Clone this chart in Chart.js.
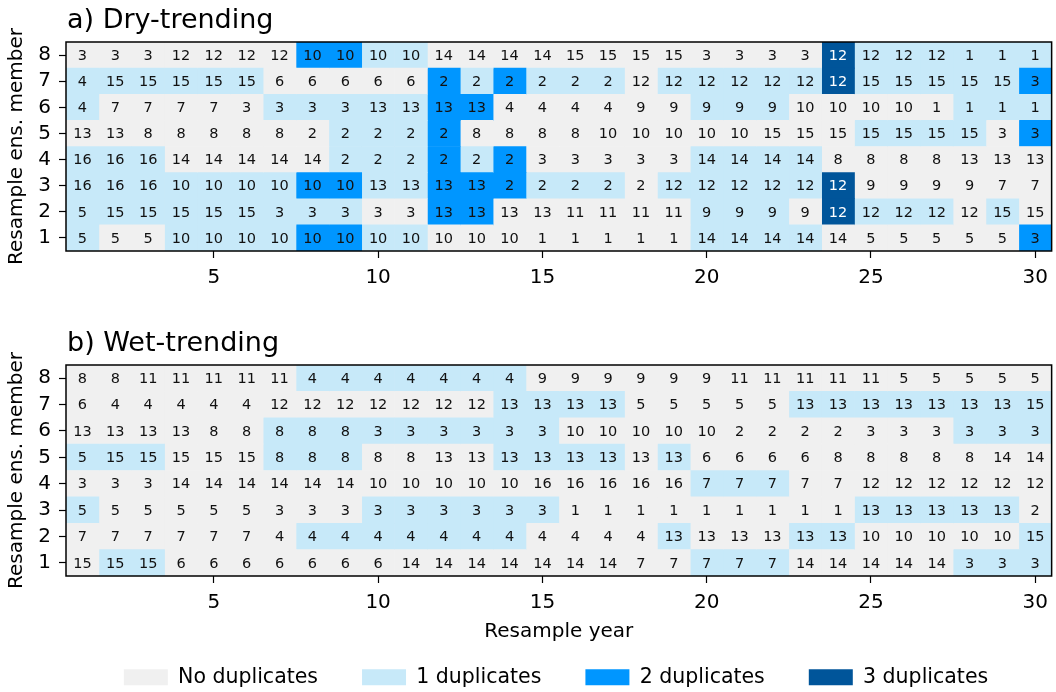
<!DOCTYPE html>
<html>
<head>
<meta charset="utf-8">
<script src="https://cdn.jsdelivr.net/npm/chart.js@4.4.0/dist/chart.umd.min.js"></script>
<style>
  body { margin: 0; background: #fff; overflow: hidden; }
  .box { position: absolute; }
</style>
</head>
<body>
<div class="box" style="left:0;top:0;width:1056px;height:300px"><canvas id="dry"></canvas></div>
<div class="box" style="left:0;top:300px;width:1056px;height:350px"><canvas id="wet"></canvas></div>
<div class="box" style="left:56px;top:623px;width:1000px;height:69px"><canvas id="key"></canvas></div>
<script>
// rows listed top to bottom (member 8 .. member 1), 30 resample years each
const rowLabels = ['8', '7', '6', '5', '4', '3', '2', '1'];
const years = [1,2,3,4,5,6,7,8,9,10,11,12,13,14,15,16,17,18,19,20,21,22,23,24,25,26,27,28,29,30];
const xTicks = [5, 10, 15, 20, 25, 30];
const levelNames = ['No duplicates', '1 duplicates', '2 duplicates', '3 duplicates'];
const levelColors = ['#f0f0f0', '#c7e9f9', '#0096ff', '#00559a'];

const dryValues = [
  [3,3,3,12,12,12,12,10,10,10, 10,14,14,14,14,15,15,15,15,3, 3,3,3,12,12,12,12,1,1,1],
  [4,15,15,15,15,15,6,6,6,6, 6,2,2,2,2,2,2,12,12,12, 12,12,12,12,15,15,15,15,15,3],
  [4,7,7,7,7,3,3,3,3,13, 13,13,13,4,4,4,4,9,9,9, 9,9,10,10,10,10,1,1,1,1],
  [13,13,8,8,8,8,8,2,2,2, 2,2,8,8,8,8,10,10,10,10, 10,15,15,15,15,15,15,15,3,3],
  [16,16,16,14,14,14,14,14,2,2, 2,2,2,2,3,3,3,3,3,14, 14,14,14,8,8,8,8,13,13,13],
  [16,16,16,10,10,10,10,10,10,13, 13,13,13,2,2,2,2,2,12,12, 12,12,12,12,9,9,9,9,7,7],
  [5,15,15,15,15,15,3,3,3,3, 3,13,13,13,13,11,11,11,11,9, 9,9,9,12,12,12,12,12,15,15],
  [5,5,5,10,10,10,10,10,10,10, 10,10,10,10,1,1,1,1,1,14, 14,14,14,14,5,5,5,5,5,3]
];
const dryLevels = [
  [0,0,0,0,0,0,0,2,2,1, 1,0,0,0,0,0,0,0,0,0, 0,0,0,3,1,1,1,1,1,1],
  [1,1,1,1,1,1,0,0,0,0, 0,2,1,2,1,1,1,0,1,1, 1,1,1,3,1,1,1,1,1,2],
  [1,0,0,0,0,0,1,1,1,1, 1,2,2,0,0,0,0,0,0,1, 1,1,0,0,0,0,0,1,1,1],
  [0,0,0,0,0,0,0,0,1,1, 1,2,0,0,0,0,0,0,0,0, 0,0,0,0,1,1,1,1,0,2],
  [1,1,1,0,0,0,0,0,1,1, 1,2,1,2,0,0,0,0,0,1, 1,1,1,0,0,0,0,0,0,0],
  [1,1,1,1,1,1,1,2,2,1, 1,2,2,2,1,1,1,0,1,1, 1,1,1,3,0,0,0,0,0,0],
  [1,1,1,1,1,1,1,1,1,0, 0,2,2,0,0,0,0,0,0,1, 1,1,0,3,1,1,1,0,1,0],
  [1,0,0,1,1,1,1,2,2,1, 1,0,0,0,0,0,0,0,0,1, 1,1,1,0,0,0,0,0,0,2]
];

const wetValues = [
  [8,8,11,11,11,11,11,4,4,4, 4,4,4,4,9,9,9,9,9,9, 11,11,11,11,11,5,5,5,5,5],
  [6,4,4,4,4,4,12,12,12,12, 12,12,12,13,13,13,13,5,5,5, 5,5,13,13,13,13,13,13,13,15],
  [13,13,13,13,8,8,8,8,8,3, 3,3,3,3,3,10,10,10,10,10, 2,2,2,2,3,3,3,3,3,3],
  [5,15,15,15,15,15,8,8,8,8, 8,13,13,13,13,13,13,13,13,6, 6,6,6,8,8,8,8,8,14,14],
  [3,3,3,14,14,14,14,14,14,10, 10,10,10,10,16,16,16,16,16,7, 7,7,7,7,12,12,12,12,12,12],
  [5,5,5,5,5,5,3,3,3,3, 3,3,3,3,3,1,1,1,1,1, 1,1,1,1,13,13,13,13,13,2],
  [7,7,7,7,7,7,4,4,4,4, 4,4,4,4,4,4,4,4,13,13, 13,13,13,13,10,10,10,10,10,15],
  [15,15,15,6,6,6,6,6,6,6, 14,14,14,14,14,14,14,7,7,7, 7,7,14,14,14,14,14,3,3,3]
];
const wetLevels = [
  [0,0,0,0,0,0,0,1,1,1, 1,1,1,1,0,0,0,0,0,0, 0,0,0,0,0,0,0,0,0,0],
  [0,0,0,0,0,0,0,0,0,0, 0,0,0,1,1,1,1,0,0,0, 0,0,1,1,1,1,1,1,1,1],
  [0,0,0,0,0,0,1,1,1,1, 1,1,1,1,1,0,0,0,0,0, 0,0,0,0,0,0,0,1,1,1],
  [1,1,1,0,0,0,1,1,1,0, 0,0,0,1,1,1,1,0,1,0, 0,0,0,0,0,0,0,0,0,0],
  [0,0,0,0,0,0,0,0,0,0, 0,0,0,0,0,0,0,0,0,1, 1,1,0,0,0,0,0,0,0,0],
  [1,0,0,0,0,0,0,0,0,1, 1,1,1,1,1,0,0,0,0,0, 0,0,0,0,1,1,1,1,1,0],
  [0,0,0,0,0,0,0,1,1,1, 1,1,1,1,0,0,0,0,1,0, 0,0,1,1,0,0,0,0,0,1],
  [0,1,1,0,0,0,0,0,0,0, 0,0,0,0,0,0,0,0,0,1, 1,1,0,0,0,0,0,1,1,1]
];

Chart.defaults.font.family = 'DejaVu Sans';
Chart.defaults.color = '#000';

// numbers in the cells, frame and panel title
const cellText = {
  id: 'cellText',
  afterDatasetsDraw(chart, args, opts) {
    const ctx = chart.ctx;
    ctx.save();
    ctx.font = '14.5px "DejaVu Sans"';
    ctx.textAlign = 'center';
    ctx.textBaseline = 'middle';
    chart.data.datasets.forEach((ds, i) => {
      chart.getDatasetMeta(i).data.forEach((bar, r) => {
        const p = bar.getCenterPoint();
        ctx.fillStyle = ds.levels[r] === 3 ? '#fff' : '#111';
        ctx.fillText(String(ds.values[r]), p.x, p.y + 1);
      });
    });
    const a = chart.chartArea;
    ctx.strokeStyle = '#000';
    ctx.lineWidth = 1.5;
    ctx.strokeRect(a.left, a.top, a.right - a.left, a.bottom - a.top);
    ctx.font = '27px "DejaVu Sans"';
    ctx.textAlign = 'left';
    ctx.textBaseline = 'alphabetic';
    ctx.fillStyle = '#000';
    ctx.fillText(opts.text, a.left + 1, a.top - 14);
    ctx.restore();
  }
};

function makePanel(id, title, values, levels, topPad, xHeight, showXTitle) {
  const datasets = years.map((yr, c) => ({
    data: rowLabels.map(() => [yr - 0.5, yr + 0.5]),
    values: values.map(row => row[c]),
    levels: levels.map(row => row[c]),
    backgroundColor: levels.map(row => levelColors[row[c]]),
    borderWidth: 0,
    grouped: false,
    barPercentage: 1,
    categoryPercentage: 1
  }));
  return new Chart(document.getElementById(id), {
    type: 'bar',
    data: { labels: rowLabels, datasets: datasets },
    plugins: [cellText],
    options: {
      indexAxis: 'y',
      responsive: true,
      maintainAspectRatio: false,
      animation: false,
      layout: { padding: { top: topPad, right: 4, left: 0, bottom: 0 } },
      plugins: {
        legend: { display: false },
        tooltip: { enabled: false },
        cellText: { text: title }
      },
      scales: {
        x: {
          type: 'linear',
          min: 0.5,
          max: 30.5,
          afterBuildTicks: s => { s.ticks = xTicks.map(v => ({ value: v })); },
          afterFit: s => { s.height = xHeight; },
          ticks: { font: { size: 20 }, padding: 8, maxRotation: 0 },
          grid: { drawOnChartArea: false, tickLength: 7, tickColor: '#000', tickWidth: 1.2 },
          border: { display: false },
          title: { display: showXTitle, text: 'Resample year', font: { size: 20 }, padding: { top: 0, bottom: 6 } }
        },
        y: {
          afterFit: s => { s.width = 66; },
          ticks: { font: { size: 20 }, padding: 8, autoSkip: false },
          grid: { offset: false, drawOnChartArea: false, tickLength: 7, tickColor: '#000', tickWidth: 1.2 },
          border: { display: false },
          title: { display: true, text: 'Resample ens. member', font: { size: 20 }, padding: { top: 5, bottom: 0 } }
        }
      }
    }
  });
}

makePanel('dry', 'a) Dry-trending', dryValues, dryLevels, 42, 49, false);
makePanel('wet', 'b) Wet-trending', wetValues, wetLevels, 65, 74, true);

new Chart(document.getElementById('key'), {
  type: 'bar',
  data: {
    labels: [],
    datasets: levelNames.map((n, i) => ({ label: n, data: [], backgroundColor: levelColors[i], borderWidth: 0 }))
  },
  options: {
    responsive: true,
    maintainAspectRatio: false,
    animation: false,
    plugins: {
      tooltip: { enabled: false },
      legend: {
        position: 'top',
        maxHeight: 300,
        onClick: null,
        labels: { boxWidth: 44, boxHeight: 16, padding: 44, font: { size: 20.5 }, color: '#000' }
      }
    },
    scales: { x: { display: false }, y: { display: false } }
  }
});
</script>
</body>
</html>
